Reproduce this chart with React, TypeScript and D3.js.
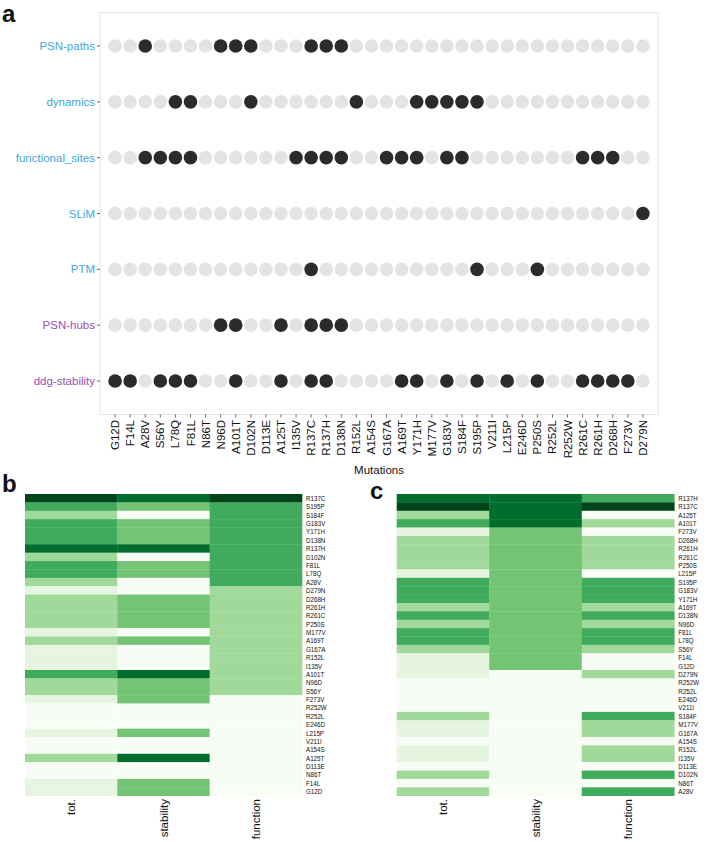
import React from "react";
import * as d3 from "d3";

// ---------------- DATA ----------------
const mutations = [
  "G12D","F14L","A28V","S56Y","L78Q","F81L","N86T","N96D","A101T","D102N",
  "D113E","A125T","I135V","R137C","R137H","D138N","R152L","A154S","G167A","A169T",
  "Y171H","M177V","G183V","S184F","S195P","V211I","L215P","E246D","P250S","R252L",
  "R252W","R261C","R261H","D268H","F273V","D279N",
];

const features = ["PSN-paths","dynamics","functional_sites","SLiM","PTM","PSN-hubs","ddg-stability"];
const featureGroup = ["function","function","function","function","function","stability","stability"];

// presence (1) / absence (0) per mutation, in the order of `mutations`
const psnPaths =       [0,0,1,0,0,0,0,1,1,1, 0,0,0,1,1,1,0,0,0,0, 0,0,0,0,0,0,0,0,0,0, 0,0,0,0,0,0];
const dynamics =       [0,0,0,0,1,1,0,0,0,1, 0,0,0,0,0,0,1,0,0,0, 1,1,1,1,1,0,0,0,0,0, 0,0,0,0,0,0];
const functionalSites =[0,0,1,1,1,1,0,0,0,0, 0,0,1,1,1,1,0,0,1,1, 1,0,1,1,0,0,0,0,0,0, 0,1,1,1,0,0];
const slim =           [0,0,0,0,0,0,0,0,0,0, 0,0,0,0,0,0,0,0,0,0, 0,0,0,0,0,0,0,0,0,0, 0,0,0,0,0,1];
const ptm =            [0,0,0,0,0,0,0,0,0,0, 0,0,0,1,0,0,0,0,0,0, 0,0,0,0,1,0,0,0,1,0, 0,0,0,0,0,0];
const psnHubs =        [0,0,0,0,0,0,0,1,1,0, 0,1,0,1,1,1,0,0,0,0, 0,0,0,0,0,0,0,0,0,0, 0,0,0,0,0,0];
const ddgStability =   [1,1,0,1,1,1,0,0,1,0, 0,1,0,1,1,0,0,0,0,1, 1,0,1,0,1,0,1,0,1,0, 0,1,1,1,1,0];
const featureValues = [psnPaths, dynamics, functionalSites, slim, ptm, psnHubs, ddgStability];

// heatmap scores per mutation (order of `mutations`)
const totScore =       [1,1,2,2,3,3,0,2,3,2, 0,2,1,5,4,3,1,0,1,2, 3,1,3,2,3,0,1,0,2,0, 0,2,2,2,1,1];
const stabilityScore = [1,1,0,1,1,1,0,1,2,0, 0,2,0,2,2,1,0,0,0,1, 1,0,1,0,1,0,1,0,1,0, 0,1,1,1,1,0];
const functionScore =  [0,0,2,1,2,2,0,1,1,2, 0,0,1,3,2,2,1,0,1,1, 2,1,2,2,2,0,0,0,1,0, 0,1,1,1,0,1];

const heatColumns = ["tot.","stability","function"];

const orderB = [
  "R137C","S195P","S184F","G183V","Y171H","D138N","R137H","D102N","F81L","L78Q","A28V",
  "D279N","D268H","R261H","R261C","P250S","M177V","A169T","G167A","R152L","I135V","A101T","N96D","S56Y",
  "F273V","R252W","R252L","E246D","L215P","V211I","A154S","A125T","D113E","N86T","F14L","G12D",
];
const orderC = [
  "R137H","R137C","A125T","A101T",
  "F273V","D268H","R261H","R261C","P250S","L215P","S195P","G183V","Y171H","A169T","D138N","N96D","F81L","L78Q","S56Y","F14L","G12D",
  "D279N","R252W","R252L","E246D","V211I","S184F","M177V","G167A","A154S","R152L","I135V","D113E","D102N","N86T","A28V",
];

// ---------------- STYLE ----------------
const FONT = "'Liberation Sans', Arial, Helvetica, sans-serif";
const groupColor: Record<string, string> = { function: "#45a6dc", stability: "#9a4db3" };
const palettes = [
  ["#f7fcf5", "#e5f5e0", "#a1d99b", "#41ab5d", "#006d2c", "#00441b"], // tot.
  ["#f7fcf5", "#74c476", "#006d2c"],                                   // stability
  ["#f7fcf5", "#a1d99b", "#41ab5d", "#00441b"],                        // function
];
const scores = [totScore, stabilityScore, functionScore];

function DotPanel() {
  const x = d3.scalePoint<string>().domain(mutations).range([100, 658]).padding(1);
  const y = d3.scalePoint<string>().domain(features).range([12.5, 414.5]).padding(0.6);
  return (
    <g>
      <rect x={100} y={12.5} width={558} height={402} fill="#fff" stroke="#e3e3e3" strokeWidth={1} />
      {features.map((f, fi) => (
        <g key={f}>
          <line x1={97} x2={100} y1={y(f)} y2={y(f)} stroke="#444" strokeWidth={0.8} />
          <text x={95} y={y(f)} dy="0.35em" textAnchor="end" fontSize={11.5} fill={groupColor[featureGroup[fi]]} fontFamily={FONT}>
            {f}
          </text>
          {mutations.map((m, mi) => (
            <circle key={m} cx={x(m)} cy={y(f)} r={6.8} fill={featureValues[fi][mi] ? "#2b2b2b" : "#e3e3e3"} />
          ))}
        </g>
      ))}
      {mutations.map((m) => (
        <g key={m}>
          <line x1={x(m)} x2={x(m)} y1={414.5} y2={417.5} stroke="#444" strokeWidth={0.8} />
          <text transform={`translate(${x(m)},420) rotate(-90)`} dy="0.35em" textAnchor="end" fontSize={11.5} fill="#111" fontFamily={FONT}>
            {m}
          </text>
        </g>
      ))}
      <text x={379} y={474} textAnchor="middle" fontSize={11.5} fill="#111" fontFamily={FONT}>Mutations</text>
    </g>
  );
}

function Heatmap({ order, x0, x1 }: { order: string[]; x0: number; x1: number }) {
  const top = 494, bottom = 795.7;
  const xb = d3.scaleBand<string>().domain(heatColumns).range([x0, x1]);
  const yb = d3.scaleBand<string>().domain(order).range([top, bottom]);
  return (
    <g>
      {heatColumns.map((c, ci) => (
        <g key={c}>
          {order.map((m) => {
            const mi = mutations.indexOf(m);
            return (
              <rect key={m} x={xb(c)} y={yb(m)} width={xb.bandwidth() + 0.3} height={yb.bandwidth() + 0.3}
                fill={palettes[ci][scores[ci][mi]]} />
            );
          })}
          <text transform={`translate(${(xb(c) as number) + xb.bandwidth() / 2},799) rotate(-90)`} dy="0.35em"
            textAnchor="end" fontSize={11.5} fill="#111" fontFamily={FONT}>
            {c}
          </text>
        </g>
      ))}
      {order.map((m) => (
        <text key={m} transform={`translate(${x1 + 4},${(yb(m) as number) + yb.bandwidth() / 2}) scale(0.82,1)`} dy="0.36em"
          fontSize={7.6} fill="#111" fontFamily={FONT}>
          {m}
        </text>
      ))}
    </g>
  );
}

export default function App() {
  return (
    <svg width={708} height={842} style={{ position: "absolute", left: 0, top: 0, background: "#fff" }}>
      <rect width={708} height={842} fill="#fff" />
      <text x={2} y={21.7} fontSize={24} fontWeight="bold" fontFamily={FONT} fill="#111">a</text>
      <DotPanel />
      <text x={2} y={492} fontSize={24} fontWeight="bold" fontFamily={FONT} fill="#111">b</text>
      <Heatmap order={orderB} x0={25} x1={302} />
      <text x={370} y={499} fontSize={24} fontWeight="bold" fontFamily={FONT} fill="#111">c</text>
      <Heatmap order={orderC} x0={396.7} x1={674.3} />
    </svg>
  );
}
